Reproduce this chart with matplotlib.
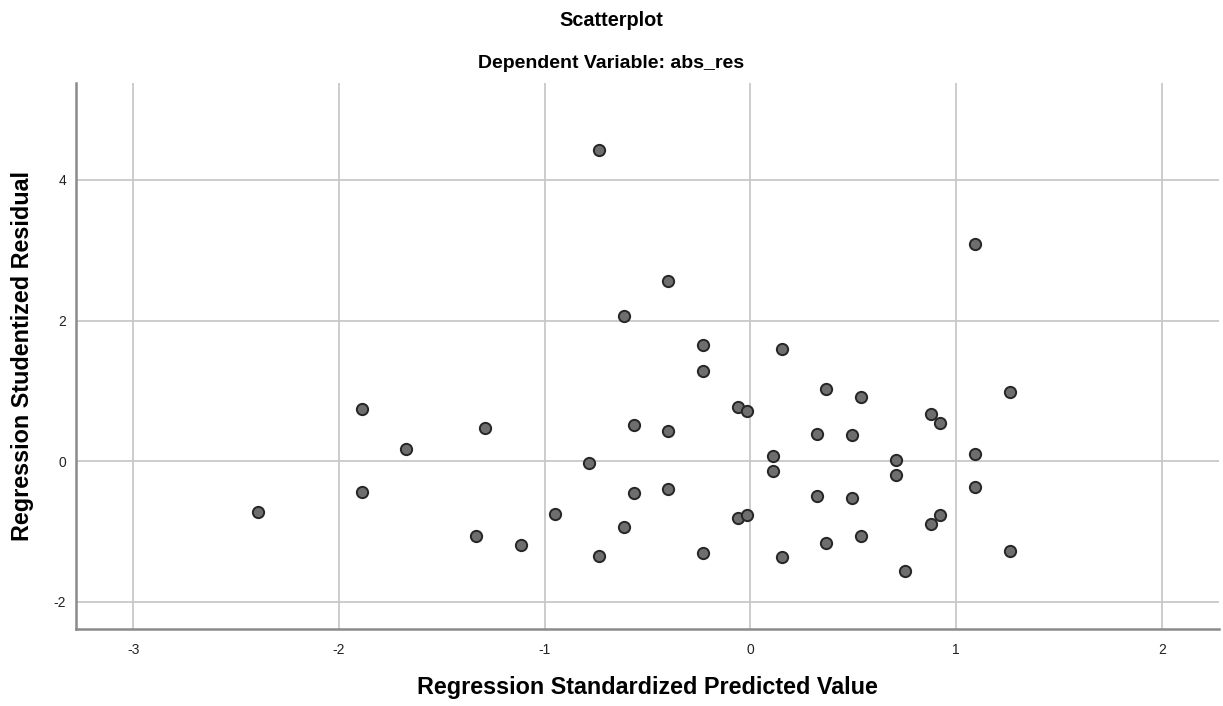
import matplotlib
matplotlib.use("Agg")
import matplotlib.pyplot as plt

# Data: Regression Standardized Predicted Value (x) vs Studentized Residual (y)
pred_value = [
    -2.392, -1.887, -1.887, -1.672, -1.288, -1.332, -1.117, -0.783, -0.952, -0.737,
    -0.737, 1.092, -0.398, -0.613,
    -0.228, 0.155, -0.228, 0.369, 0.537, 1.262, -0.062, -0.014, 0.877, 0.922,
    -0.566, -0.398, 0.323, 0.493, 0.108, 1.090, 0.707, 0.108, 0.707, 1.090,
    -0.566, -0.398, 0.323, 0.493, -0.062, -0.014, 0.922, 0.877, -0.614, 0.537,
    0.369, 1.262, -0.228, 0.155, 0.752,
]
stud_resid = [
    -0.720, 0.744, -0.445, 0.166, 0.474, -1.066, -1.194, -0.028, -0.758, -1.346,
    4.420, 3.085, 2.561, 2.066,
    1.659, 1.590, 1.289, 1.033, 0.915, 0.981, 0.768, 0.720, 0.673, 0.545,
    0.507, 0.422, 0.384, 0.374, 0.071, 0.104, 0.009, -0.147, -0.199, -0.365,
    -0.450, -0.398, -0.502, -0.521, -0.815, -0.773, -0.773, -0.896, -0.938, -1.071,
    -1.161, -1.275, -1.303, -1.370, -1.564,
]
x_ticks = [-3, -2, -1, 0, 1, 2]
y_ticks = [-2, 0, 2, 4]

title = "Scatterplot"
subtitle = "Dependent Variable: abs_res"
x_label = "Regression Standardized Predicted Value"
y_label = "Regression Studentized Residual"

plt.rcParams['font.family'] = ['Liberation Sans', 'DejaVu Sans']

fig = plt.figure(figsize=(12.23, 7.06), dpi=100)
ax = fig.add_axes([76 / 1223, 77 / 706, (1219 - 76) / 1223, (629 - 83) / 706])

ax.set_xlim(-3.278, 2.278)
ax.set_ylim(-2.389, 5.38)
ax.set_xticks(x_ticks)
ax.set_yticks(y_ticks)
tick_font = ['Liberation Sans Narrow', 'Liberation Sans', 'DejaVu Sans']
ax.set_xticklabels([str(v) for v in x_ticks], family=tick_font, fontsize=10, color='#222222')
ax.set_yticklabels([str(v) for v in y_ticks], family=tick_font, fontsize=10, color='#222222')
ax.tick_params(axis='both', length=0)
ax.tick_params(axis='x', pad=10)
ax.tick_params(axis='y', pad=7)

ax.grid(True, color='#c8c8c8', linewidth=1.3)
ax.set_axisbelow(True)
for s in ['top', 'right']:
    ax.spines[s].set_visible(False)
for s in ['left', 'bottom']:
    ax.spines[s].set_color('#8a8a8a')
    ax.spines[s].set_linewidth(1.8)

ax.scatter(pred_value, stud_resid, s=66, facecolor='#6e6e6e', edgecolor='#262626',
           linewidth=1.4, zorder=3)

ax.set_xlabel(x_label, fontsize=16.8, fontweight='bold', labelpad=14)
ax.set_ylabel(y_label, fontsize=16.8, fontweight='bold', labelpad=14)

fig.text(611 / 1223, 1 - 21 / 706, title, ha='center', va='center',
         fontsize=14.3, fontweight='bold')
fig.text(611 / 1223, 1 - 63 / 706, subtitle, ha='center', va='center',
         fontsize=14, fontweight='bold')

fig.savefig("out.png", dpi=100, facecolor='white')
